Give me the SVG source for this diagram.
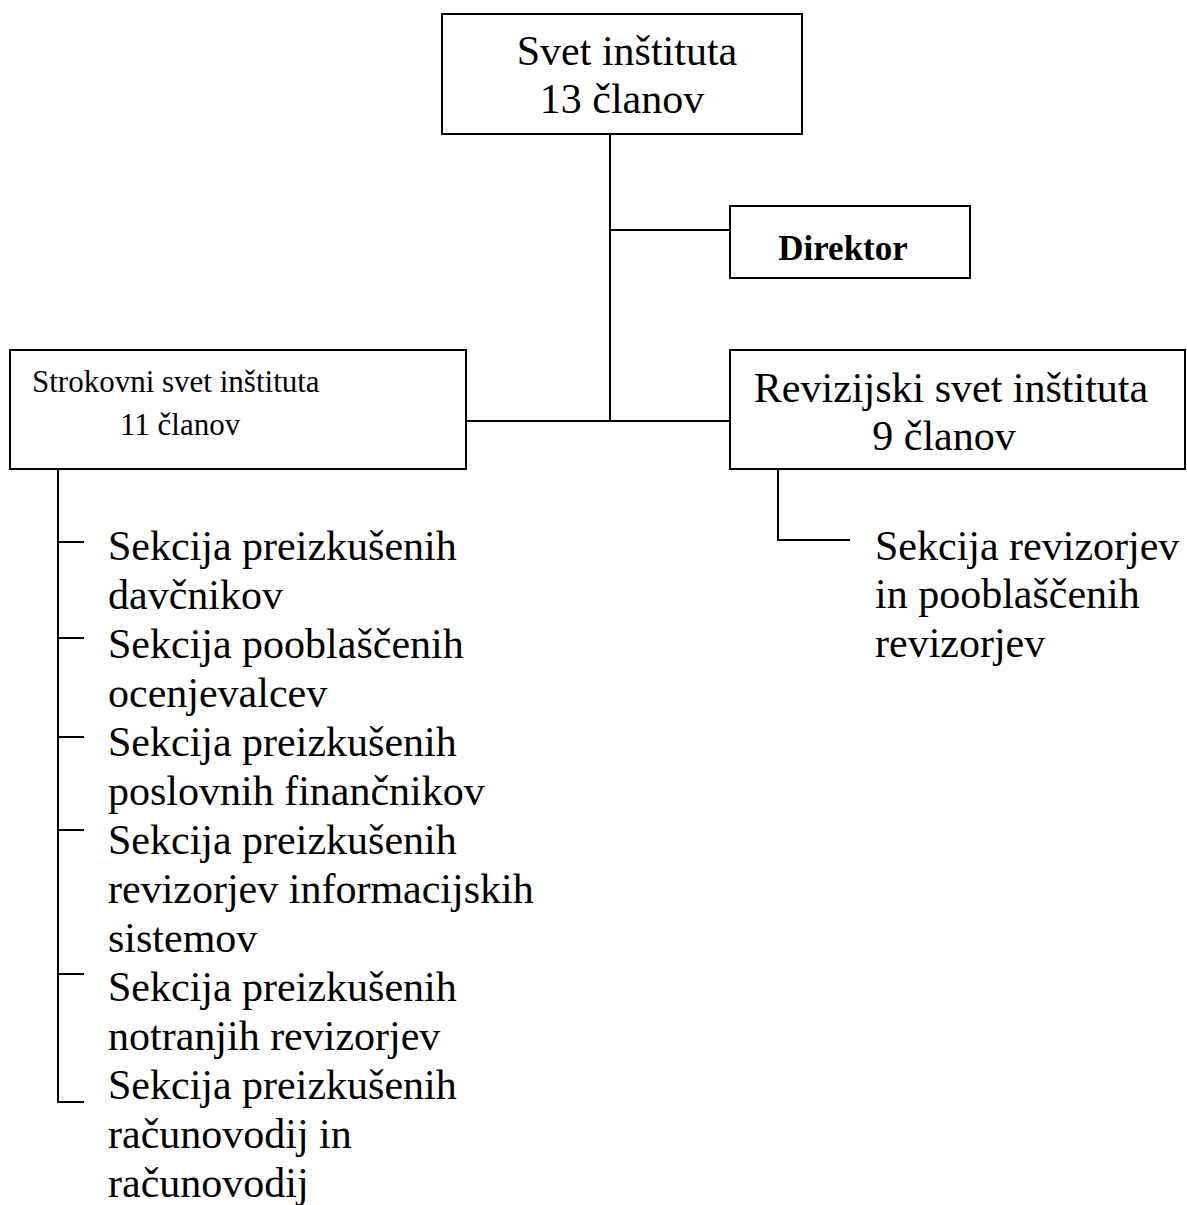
<svg xmlns="http://www.w3.org/2000/svg" width="1187" height="1205" viewBox="0 0 1187 1205">
<style>
.box{fill:#fff;stroke:#000;stroke-width:2}
.ln{fill:none;stroke:#000;stroke-width:2}
text{font-family:"Liberation Serif","Times New Roman",serif;fill:#000}
.t42{font-size:42px}
.t31{font-size:31px}
.b{font-size:35px;font-weight:bold}
</style>
<rect width="1187" height="1205" fill="#fff"/>
<g id="connectors">
<path class="ln" d="M610 134V421"/>
<path class="ln" d="M610 230H730"/>
<path class="ln" d="M466 421H730"/>
<path class="ln" d="M58 469V1102H84"/>
<path class="ln" d="M58 542H84M58 638H84M58 737H84M58 830H84M58 974H84"/>
<path class="ln" d="M778 469V540H850"/>
</g>
<g id="svet">
<rect class="box" x="442" y="14" width="360" height="120"/>
<text class="t42" x="627" y="65" text-anchor="middle">Svet inštituta</text>
<text class="t42" x="622" y="113" text-anchor="middle">13 članov</text>
</g>
<g id="direktor">
<rect class="box" x="730" y="206" width="240" height="72"/>
<text class="b" x="843" y="260" text-anchor="middle">Direktor</text>
</g>
<g id="strokovni">
<rect class="box" x="10" y="350" width="456" height="119"/>
<text class="t31" x="32" y="392">Strokovni svet inštituta</text>
<text class="t31" x="120" y="435">11 članov</text>
</g>
<g id="revizijski">
<rect class="box" x="730" y="350" width="455" height="119"/>
<text class="t42" x="951" y="402" text-anchor="middle">Revizijski svet inštituta</text>
<text class="t42" x="944" y="450" text-anchor="middle">9 članov</text>
</g>
<g id="sekcije" class="t42">
<text class="t42" x="108" y="560">Sekcija preizkušenih</text>
<text class="t42" x="108" y="609">davčnikov</text>
<text class="t42" x="108" y="658">Sekcija pooblaščenih</text>
<text class="t42" x="108" y="707">ocenjevalcev</text>
<text class="t42" x="108" y="756">Sekcija preizkušenih</text>
<text class="t42" x="108" y="805">poslovnih finančnikov</text>
<text class="t42" x="108" y="854">Sekcija preizkušenih</text>
<text class="t42" x="108" y="903">revizorjev informacijskih</text>
<text class="t42" x="108" y="952">sistemov</text>
<text class="t42" x="108" y="1001">Sekcija preizkušenih</text>
<text class="t42" x="108" y="1050">notranjih revizorjev</text>
<text class="t42" x="108" y="1099">Sekcija preizkušenih</text>
<text class="t42" x="108" y="1148">računovodij in</text>
<text class="t42" x="108" y="1197">računovodij</text>
</g>
<g id="sekcija-revizorjev">
<text class="t42" x="875" y="560">Sekcija revizorjev</text>
<text class="t42" x="875" y="608">in pooblaščenih</text>
<text class="t42" x="875" y="657">revizorjev</text>
</g>
</svg>
